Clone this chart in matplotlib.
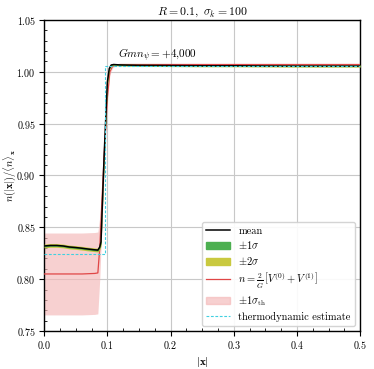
import numpy as np
import matplotlib
matplotlib.use("Agg")
import matplotlib.pyplot as plt
from matplotlib.ticker import MultipleLocator
from matplotlib.patches import Patch
from matplotlib.lines import Line2D

plt.rcParams['font.family'] = 'serif'
plt.rcParams['font.serif'] = ['cmr10', 'DejaVu Serif']
plt.rcParams['mathtext.fontset'] = 'cm'
plt.rcParams['axes.formatter.use_mathtext'] = True
plt.rcParams['axes.unicode_minus'] = False

# ---- data ----
x_mean = [0.0, 0.01, 0.02, 0.03, 0.04, 0.05, 0.06, 0.07, 0.08, 0.085, 0.088, 0.09,
          0.095, 0.1, 0.103, 0.106, 0.11, 0.12, 0.15, 0.2, 0.25, 0.3, 0.35, 0.4, 0.45, 0.5]
mean = [0.832, 0.8325, 0.8325, 0.832, 0.831, 0.8305, 0.8298, 0.829, 0.8283, 0.828, 0.831, 0.836,
        0.92, 0.99, 1.003, 1.0065, 1.007, 1.0066, 1.0062, 1.006, 1.0058, 1.0058, 1.0056, 1.0055, 1.0055, 1.0055]
sigma = [0.0009, 0.0009, 0.0009, 0.0009, 0.0009, 0.0009, 0.0009, 0.0009, 0.0009, 0.0009, 0.0012, 0.002,
         0.003, 0.002, 0.001, 0.0006, 0.0005, 0.0005, 0.0005, 0.0005, 0.0005, 0.0005, 0.0005, 0.0005, 0.0005, 0.0005]

x_th = [0.0, 0.02, 0.04, 0.06, 0.08, 0.085, 0.088, 0.095, 0.1, 0.104, 0.108, 0.112, 0.12,
        0.2, 0.3, 0.4, 0.5]
n_th = [0.805, 0.805, 0.805, 0.805, 0.8055, 0.806, 0.83, 0.92, 0.975, 1.0, 1.005, 1.0065, 1.007,
        1.007, 1.007, 1.007, 1.007]
sigma_th = [0.0395, 0.0395, 0.0395, 0.0395, 0.0395, 0.0395, 0.03, 0.015, 0.006, 0.003, 0.0015, 0.001, 0.001,
            0.001, 0.001, 0.001, 0.001]

x_thermo = [0.0, 0.096, 0.5]
n_thermo = [0.824, 1.0055, 1.0055]

title = r'$R = 0.1,\ \sigma_k = 100$'
annotation = r'$Gmn_\psi = +4{,}000$'

# ---- colors ----
c_green = '#4caf50'
c_yellow = '#c9c93f'
c_red = '#e04646'
c_pink = '#f4b8b8'
c_cyan = '#40d0e0'

fig = plt.figure(figsize=(3.74, 3.69), dpi=100)
ax = fig.add_axes([0.118, 0.103, 0.845, 0.843])

xm = np.array(x_mean); m = np.array(mean); s = np.array(sigma)
xt = np.array(x_th); nt = np.array(n_th); st = np.array(sigma_th)

ax.fill_between(xt, nt - st, nt + st, color=c_pink, alpha=0.65, lw=0, zorder=1)
ax.plot(xt, nt, color=c_red, lw=0.9, zorder=3)
ax.fill_between(xm, m - 2 * s, m + 2 * s, color=c_yellow, lw=0, zorder=4)
ax.fill_between(xm, m - s, m + s, color=c_green, lw=0, zorder=5)
ax.plot(xm, m, color='black', lw=1.1, zorder=6)
ax.plot(x_thermo, n_thermo, color=c_cyan, lw=0.8, ls=(0, (2.5, 1.5)), drawstyle='steps-post', zorder=7)

ax.text(0.117, 1.0075, annotation, fontsize=8, ha='left', va='bottom')

ax.set_xlim(0, 0.5)
ax.set_ylim(0.75, 1.05)
ax.xaxis.set_major_locator(MultipleLocator(0.1))
ax.xaxis.set_minor_locator(MultipleLocator(0.025))
ax.yaxis.set_major_locator(MultipleLocator(0.05))
ax.yaxis.set_minor_locator(MultipleLocator(0.01))
ax.tick_params(which='major', direction='out', length=3.5, labelsize=7.2, pad=2.5)
ax.tick_params(which='minor', direction='in', length=2)
ax.grid(True, which='major', color='#c8c8c8', lw=0.8, zorder=0)
ax.set_axisbelow(True)
for sp in ax.spines.values():
    sp.set_linewidth(1.0)

ax.set_title(title, fontsize=8.5, pad=4)
ax.set_xlabel(r'$|\mathbf{x}|$', fontsize=8, labelpad=3)
ax.set_ylabel(r'$n(|\mathbf{x}|)/\langle n\rangle_\mathbf{x}$', fontsize=7.5)
ax.yaxis.set_label_coords(-0.083, 0.5)

handles = [
    Line2D([], [], color='black', lw=1.1),
    Patch(color=c_green),
    Patch(color=c_yellow),
    Line2D([], [], color=c_red, lw=0.9),
    Patch(color=c_pink, alpha=0.65),
    Line2D([], [], color=c_cyan, lw=0.8, ls=(0, (2.5, 1.5))),
]
labels = ['mean', r'$\pm1\sigma$', r'$\pm2\sigma$',
          r'$n = \frac{2}{G}\,\left[V^{(0)} + V^{(1)}\right]$',
          r'$\pm1\sigma_\mathrm{th}$', 'thermodynamic estimate']
ax.legend(handles, labels, loc='lower right', fontsize=7.5, framealpha=0.9,
          edgecolor='#d0d0d0', borderpad=0.4, labelspacing=0.35, handlelength=2.3)

fig.savefig('out.png', dpi=100)
